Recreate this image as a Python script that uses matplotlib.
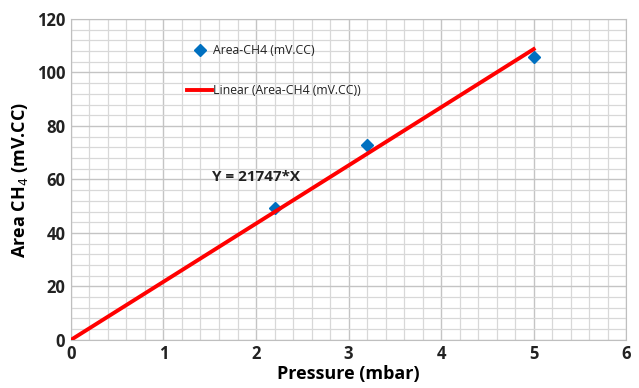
import numpy as np
from matplotlib import pyplot as plt
from matplotlib.ticker import MultipleLocator

plt.rcParams['font.family'] = ['Open Sans', 'DejaVu Sans']

# data
pressure = [2.2, 3.2, 5.0]
area = [49.5, 72.7, 105.7]
slope = 21.747
fit_x = np.array([0.0, 5.0])

fig = plt.figure(figsize=(6.39, 3.88), dpi=100)
ax = fig.add_axes([0.111, 0.124, 0.869, 0.827])

ax.plot(pressure, area, linestyle='none', marker='D', markersize=6.5,
        color='#0070C0', label='Area-CH4 (mV.CC)', zorder=3)
ax.plot(fit_x, slope * fit_x, color='#FF0000', linewidth=2.8,
        label='Linear (Area-CH4 (mV.CC))', zorder=4)

ax.set_xlim(0, 6)
ax.set_ylim(0, 120)
ax.xaxis.set_major_locator(MultipleLocator(1))
ax.xaxis.set_minor_locator(MultipleLocator(0.2))
ax.yaxis.set_major_locator(MultipleLocator(20))
ax.yaxis.set_minor_locator(MultipleLocator(4))
ax.grid(which='major', color='#c4c4c4', linewidth=1.0)
ax.grid(which='minor', color='#d8d8d8', linewidth=0.9)
ax.set_axisbelow(True)
for s in ax.spines.values():
    s.set_color('#bfbfbf')
ax.tick_params(which='both', length=0, pad=4)
for lab in ax.get_xticklabels() + ax.get_yticklabels():
    lab.set_fontweight('bold')
    lab.set_fontsize(12)
    lab.set_color('#222222')

ax.set_xlabel('Pressure (mbar)', fontsize=13, fontweight='bold', labelpad=1)
ax.set_ylabel('Area CH$_4$ (mV.CC)', fontsize=13, fontweight='bold', labelpad=5)

ax.text(1.52, 59.3, 'Y = 21747*X', fontsize=11, fontweight='bold',
        color='#222222', va='baseline')

leg = ax.legend(loc='upper left', bbox_to_anchor=(0.19, 0.955), frameon=False,
                fontsize=8.8, labelspacing=2.2, handlelength=2.0,
                handletextpad=0.1, labelcolor='#222222')

fig.savefig('out.png', dpi=100)
